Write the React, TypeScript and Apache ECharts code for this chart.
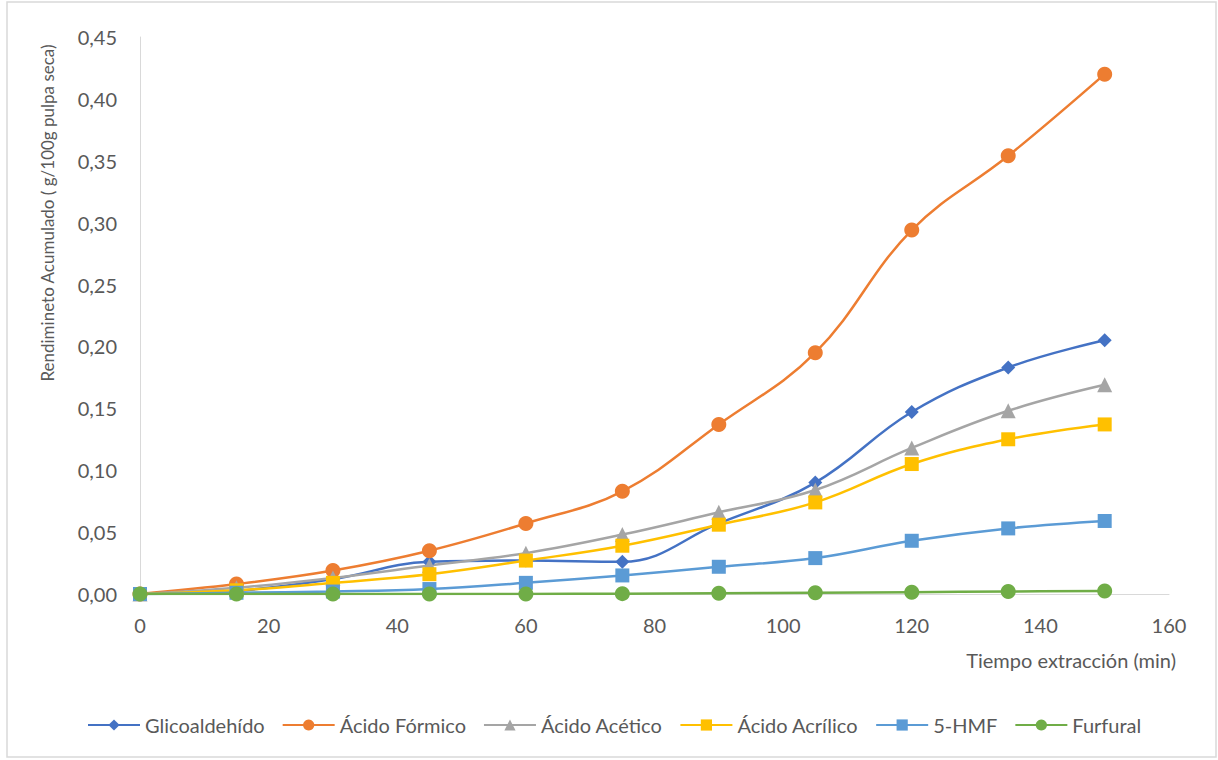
import React, { useEffect, useRef } from "react";
import * as echarts from "echarts";

// Tiempo de extracción (min)
const tiempos = [0, 15, 30, 45, 60, 75, 90, 105, 120, 135, 150];

// Rendimiento acumulado (g/100g pulpa seca)
const glicoaldehido = [0, 0.0025, 0.012, 0.026, 0.027, 0.026, 0.057, 0.09, 0.147, 0.183, 0.205];
const acidoFormico = [0, 0.008, 0.019, 0.035, 0.057, 0.083, 0.137, 0.195, 0.294, 0.354, 0.42];
const acidoAcetico = [0, 0.005, 0.013, 0.023, 0.033, 0.048, 0.066, 0.084, 0.118, 0.148, 0.169];
const acidoAcrilico = [0, 0.003, 0.009, 0.016, 0.027, 0.039, 0.056, 0.074, 0.105, 0.125, 0.137];
const hmf = [0, 0.001, 0.002, 0.004, 0.009, 0.015, 0.022, 0.029, 0.043, 0.053, 0.059];
const furfural = [0, 0, 0, 0, 0, 0.0003, 0.0006, 0.001, 0.0015, 0.002, 0.0025];

const seriesDefs = [
  { name: "Glicoaldehído", data: glicoaldehido, color: "#4472C4", symbol: "diamond", size: 14 },
  { name: "Ácido Fórmico", data: acidoFormico, color: "#ED7D31", symbol: "circle", size: 15 },
  { name: "Ácido Acético", data: acidoAcetico, color: "#A5A5A5", symbol: "triangle", size: 15 },
  { name: "Ácido Acrílico", data: acidoAcrilico, color: "#FFC000", symbol: "rect", size: 14 },
  { name: "5-HMF", data: hmf, color: "#5B9BD5", symbol: "rect", size: 14 },
  { name: "Furfural", data: furfural, color: "#70AD47", symbol: "circle", size: 15 },
];

const FONT = "Lato, 'Liberation Sans', sans-serif";
const TEXT_COLOR = "#595959";
const AXIS_COLOR = "#D9D9D9";

export default function App() {
  const ref = useRef<HTMLDivElement>(null);

  useEffect(() => {
    if (!ref.current) return;
    const chart = echarts.init(ref.current, undefined, { renderer: "svg" });
    chart.setOption({
      animation: false,
      backgroundColor: "#ffffff",
      textStyle: { fontFamily: FONT },
      grid: { left: 140, right: 49, top: 37, bottom: 166, containLabel: false },
      xAxis: {
        type: "value",
        min: 0,
        max: 160,
        interval: 20,
        axisLine: { show: true, lineStyle: { color: AXIS_COLOR, width: 1 } },
        axisTick: { show: false },
        splitLine: { show: false },
        axisLabel: { color: TEXT_COLOR, fontSize: 20, margin: 21, fontFamily: FONT },
      },
      yAxis: {
        type: "value",
        min: 0,
        max: 0.45,
        interval: 0.05,
        axisLine: { show: true, lineStyle: { color: AXIS_COLOR, width: 1 } },
        axisTick: { show: false },
        splitLine: { show: false },
        axisLabel: {
          color: TEXT_COLOR,
          fontSize: 20,
          margin: 23,
          fontFamily: FONT,
          formatter: (v: number) => v.toFixed(2).replace(".", ","),
        },
      },
      legend: {
        left: 82,
        top: 710,
        itemWidth: 52,
        itemHeight: 14,
        itemGap: 17,
        textStyle: { color: TEXT_COLOR, fontSize: 20, fontFamily: FONT },
        data: seriesDefs.map((s) => s.name),
      },
      graphic: [
        {
          type: "rect",
          shape: { x: 7, y: 2, width: 1209, height: 755 },
          style: { fill: "none", stroke: AXIS_COLOR, lineWidth: 1.5 },
          silent: true,
        },
        {
          type: "text",
          x: 47,
          y: 213,
          rotation: Math.PI / 2,
          style: {
            text: "Rendimineto Acumulado ( g/100g pulpa seca)",
            fill: TEXT_COLOR,
            font: `17px ${FONT}`,
            align: "center",
            verticalAlign: "middle",
          },
        },
        {
          type: "text",
          x: 1176,
          y: 660,
          style: {
            text: "Tiempo extracción (min)",
            fill: TEXT_COLOR,
            font: `20px ${FONT}`,
            align: "right",
            verticalAlign: "middle",
          },
        },
      ],
      series: seriesDefs.map((s) => ({
        name: s.name,
        type: "line",
        smooth: 0.4,
        data: tiempos.map((t, i) => [t, s.data[i]]),
        symbol: s.symbol,
        symbolSize: s.size,
        showSymbol: true,
        lineStyle: { color: s.color, width: 2.5 },
        itemStyle: { color: s.color, borderWidth: 0 },
        color: s.color,
      })),
    });
    return () => chart.dispose();
  }, []);

  return (
    <div
      ref={ref}
      style={{ position: "fixed", left: 0, top: 0, width: 1218, height: 760 }}
    />
  );
}
